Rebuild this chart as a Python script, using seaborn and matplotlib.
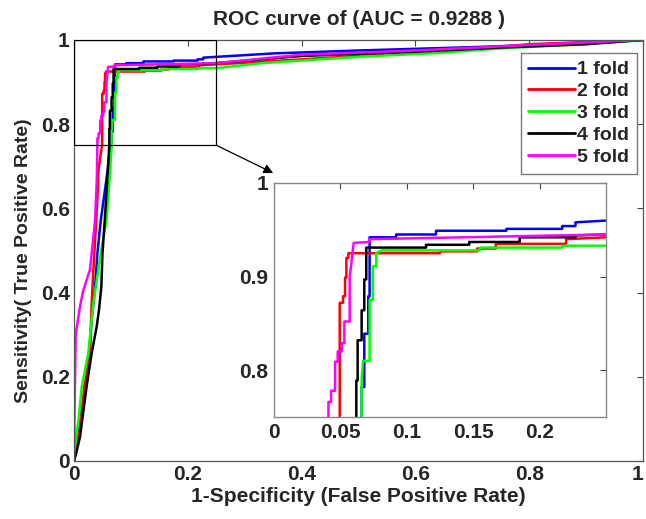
import numpy as np
import pandas as pd
import matplotlib
matplotlib.use('Agg')
import matplotlib.pyplot as plt
import seaborn as sns
from matplotlib.patches import Rectangle

sns.set_style('white')
plt.rcParams['font.family'] = ['Liberation Sans', 'DejaVu Sans']
plt.rcParams['font.weight'] = 'bold'

folds = ['1 fold', '2 fold', '3 fold', '4 fold', '5 fold']
colors = ['#0000ff', '#ff0000', '#00ff00', '#000000', '#ff00ff']

fold1_fpr = [0, 0.004, 0.011, 0.025, 0.031, 0.037, 0.041, 0.047, 0.055, 0.062, 0.066, 0.066, 0.068, 0.068,
             0.071, 0.071, 0.072, 0.072, 0.092, 0.092, 0.122, 0.122, 0.175, 0.175, 0.217, 0.217, 0.227, 0.227,
             0.35, 0.5, 0.7, 0.85, 1.0]
fold1_tpr = [0, 0.05, 0.098, 0.216, 0.335, 0.414, 0.493, 0.572, 0.65, 0.72, 0.75, 0.782, 0.782, 0.839,
             0.839, 0.879, 0.879, 0.942, 0.942, 0.945, 0.945, 0.949, 0.949, 0.951, 0.951, 0.954, 0.954, 0.958,
             0.968, 0.975, 0.983, 0.99, 1.0]

fold2_fpr = [0, 0.006, 0.011, 0.018, 0.028, 0.031, 0.034, 0.039, 0.041, 0.043, 0.047, 0.0495, 0.0495, 0.052,
             0.052, 0.0535, 0.0535, 0.0545, 0.0545, 0.056, 0.056, 0.125, 0.125, 0.153, 0.153, 0.167, 0.167,
             0.22, 0.22, 0.25, 0.35, 0.5, 0.6, 0.7, 0.8, 1.0]
fold2_tpr = [0, 0.04, 0.082, 0.176, 0.256, 0.375, 0.454, 0.572, 0.62, 0.691, 0.73, 0.75, 0.872, 0.872,
             0.879, 0.879, 0.899, 0.899, 0.92, 0.92, 0.925, 0.925, 0.927, 0.927, 0.93, 0.93, 0.935,
             0.935, 0.94, 0.942, 0.95, 0.962, 0.975, 0.978, 0.99, 1.0]

fold3_fpr = [0, 0.003, 0.008, 0.0135, 0.025, 0.034, 0.047, 0.057, 0.063, 0.066, 0.066, 0.067, 0.072, 0.072,
             0.0745, 0.0745, 0.077, 0.077, 0.081, 0.155, 0.155, 0.217, 0.217, 0.25, 0.33, 0.5, 0.65, 0.75,
             0.9, 1.0]
fold3_tpr = [0, 0.05, 0.098, 0.176, 0.256, 0.375, 0.493, 0.572, 0.68, 0.75, 0.79, 0.81, 0.81, 0.875,
             0.875, 0.911, 0.911, 0.925, 0.928, 0.928, 0.931, 0.931, 0.933, 0.933, 0.945, 0.96, 0.97, 0.98,
             0.99, 1.0]

fold4_fpr = [0, 0.004, 0.0105, 0.022, 0.031, 0.0398, 0.044, 0.048, 0.050, 0.054, 0.058, 0.062, 0.062, 0.063,
             0.063, 0.066, 0.066, 0.068, 0.068, 0.0695, 0.0695, 0.1145, 0.1145, 0.147, 0.147, 0.185, 0.185,
             0.227, 0.227, 0.25, 0.4, 0.6, 0.75, 0.9, 1.0]
fold4_tpr = [0, 0.02, 0.057, 0.176, 0.256, 0.319, 0.36, 0.414, 0.493, 0.572, 0.66, 0.75, 0.789, 0.789,
             0.832, 0.832, 0.864, 0.864, 0.897, 0.897, 0.931, 0.931, 0.934, 0.934, 0.937, 0.937, 0.942,
             0.942, 0.944, 0.945, 0.962, 0.972, 0.982, 0.99, 1.0]

fold5_fpr = [0, 0.001, 0.003, 0.0105, 0.0164, 0.028, 0.037, 0.040, 0.041, 0.041, 0.043, 0.043, 0.046, 0.046,
             0.048, 0.048, 0.051, 0.051, 0.053, 0.053, 0.057, 0.057, 0.058, 0.06, 0.072, 0.072, 0.25, 0.4,
             0.6, 0.8, 1.0]
fold5_tpr = [0, 0.129, 0.301, 0.367, 0.406, 0.454, 0.572, 0.667, 0.75, 0.766, 0.766, 0.778, 0.778, 0.809,
             0.809, 0.82, 0.82, 0.829, 0.829, 0.852, 0.852, 0.90, 0.911, 0.936, 0.937, 0.94, 0.945, 0.965,
             0.975, 0.988, 1.0]

main_ticks = [0, 0.2, 0.4, 0.6, 0.8, 1.0]
main_ticklabels = ['0', '0.2', '0.4', '0.6', '0.8', '1']
inset_xticks = [0, 0.05, 0.1, 0.15, 0.2]
inset_xticklabels = ['0', '0.05', '0.1', '0.15', '0.2']
inset_yticks = [0.8, 0.9, 1.0]
inset_yticklabels = ['0.8', '0.9', '1']

all_fpr = [fold1_fpr, fold2_fpr, fold3_fpr, fold4_fpr, fold5_fpr]
all_tpr = [fold1_tpr, fold2_tpr, fold3_tpr, fold4_tpr, fold5_tpr]
frames = []
for name, f, t in zip(folds, all_fpr, all_tpr):
    frames.append(pd.DataFrame({'fpr': f, 'tpr': t, 'fold': name}))
df = pd.concat(frames, ignore_index=True)

FS = 15

fig = plt.figure(figsize=(6.46, 5.19), dpi=100)
ax = fig.add_axes([0.1146, 0.1118, 0.8808, 0.8112])
sns.lineplot(data=df, x='fpr', y='tpr', hue='fold', palette=colors, hue_order=folds,
             estimator=None, sort=False, lw=1.8, ax=ax)
ax.set_xlim(0, 1)
ax.set_ylim(0, 1)
ax.set_xticks(main_ticks)
ax.set_xticklabels(main_ticklabels)
ax.set_yticks(main_ticks)
ax.set_yticklabels(main_ticklabels)
ax.tick_params(direction='in', top=True, right=True, length=4, width=0.8,
               labelsize=FS, color='#444444', pad=3)
for lab in ax.get_xticklabels() + ax.get_yticklabels():
    lab.set_fontweight('bold')
ax.get_xticklabels()[-1].set_horizontalalignment('right')
for s in ax.spines.values():
    s.set_color('#555555')
    s.set_linewidth(0.9)
ax.set_xlabel('1-Specificity (False Positive Rate)', fontsize=FS, fontweight='bold', labelpad=2)
ax.set_ylabel('Sensitivity( True Positive Rate)', fontsize=14, fontweight='bold')
ax.yaxis.set_label_coords(-0.073, 0.475)
ax.set_title('ROC curve of (AUC = 0.9288 )', fontsize=FS, fontweight='bold', pad=11)

ax.add_patch(Rectangle((0, 0.75), 0.25, 0.25, fill=False, edgecolor='black', lw=0.9, zorder=5))
ax.annotate('', xy=(0.35, 0.684), xytext=(0.25, 0.75), xycoords='data',
            arrowprops=dict(arrowstyle='-|>', color='black', lw=0.9, mutation_scale=14,
                            shrinkA=0, shrinkB=0))

leg = ax.legend(loc='upper right', bbox_to_anchor=(0.989, 0.969), prop={'weight': 'bold', 'size': 14},
                frameon=True, fancybox=False, edgecolor='#777777', framealpha=1,
                handlelength=2.4, handletextpad=0.1, labelspacing=0.22, borderpad=0.4,
                borderaxespad=0)
for line in leg.get_lines():
    line.set_linewidth(2)

ins = fig.add_axes([0.4241, 0.1965, 0.514, 0.4509])
ins.set_facecolor('white')
sns.lineplot(data=df, x='fpr', y='tpr', hue='fold', palette=colors, hue_order=folds,
             estimator=None, sort=False, lw=1.8, ax=ins, legend=False)
ins.set_xlim(0, 0.25)
ins.set_ylim(0.75, 1)
ins.set_xticks(inset_xticks)
ins.set_xticklabels(inset_xticklabels)
ins.set_yticks(inset_yticks)
ins.set_yticklabels(inset_yticklabels)
ins.set_xlabel('')
ins.set_ylabel('')
ins.tick_params(direction='in', top=True, right=True, length=4, width=0.8,
                labelsize=FS, color='#444444', pad=4)
for lab in ins.get_xticklabels() + ins.get_yticklabels():
    lab.set_fontweight('bold')
for s in ins.spines.values():
    s.set_color('#888888')
    s.set_linewidth(1.0)

fig.savefig('out.png', dpi=100)
